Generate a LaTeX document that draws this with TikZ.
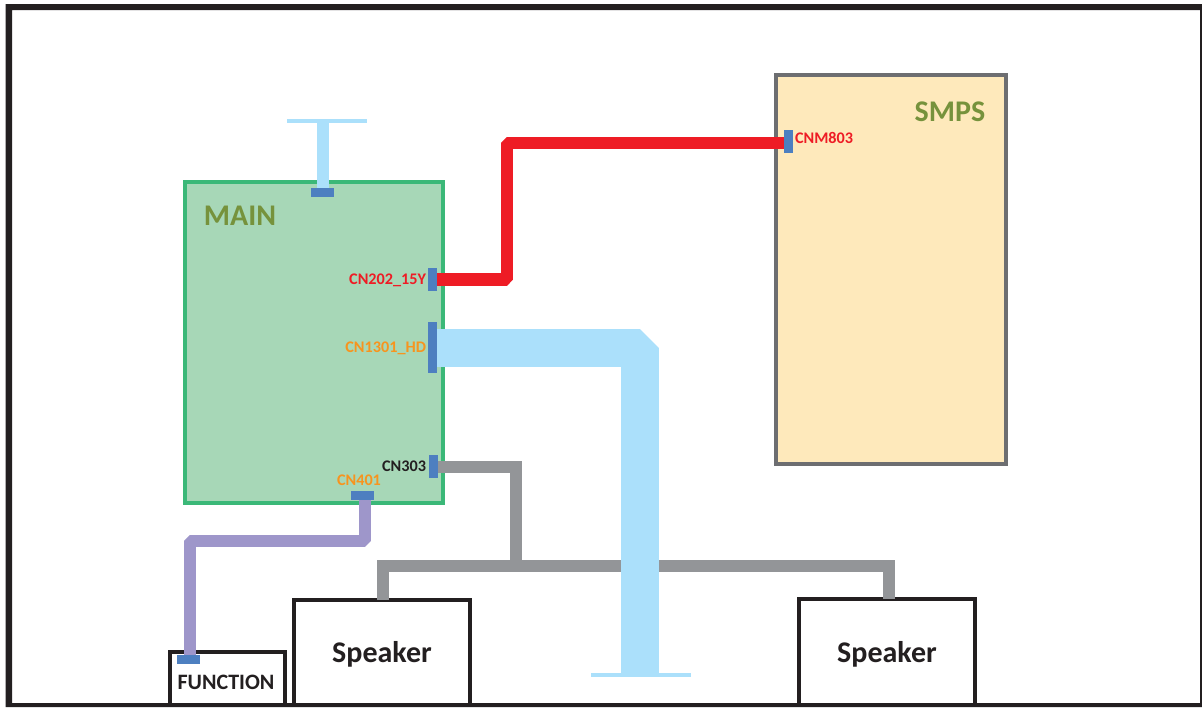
\documentclass[tikz,border=0pt]{standalone}
\usepackage{fontspec}
\setmainfont{Carlito}
\definecolor{frameink}{HTML}{231F20}
\definecolor{mainfill}{HTML}{A7D7B7}
\definecolor{mainedge}{HTML}{3BB878}
\definecolor{titleink}{HTML}{76923C}
\definecolor{smpsfill}{HTML}{FEE9BB}
\definecolor{smpsedge}{HTML}{6D6E71}
\definecolor{portblue}{HTML}{4D7FC0}
\definecolor{skyblue}{HTML}{ABE0FB}
\definecolor{wirered}{HTML}{EE1C25}
\definecolor{wiregray}{HTML}{939598}
\definecolor{wirepurple}{HTML}{9E96CA}
\definecolor{labelorange}{HTML}{F7941E}
\pgfdeclarelayer{boxes}
\pgfdeclarelayer{wires}
\pgfsetlayers{boxes,wires,main}
\tikzset{
  every node/.style={inner sep=0pt,outer sep=0pt,font=\bfseries},
  port/.style={fill=portblue,anchor=center},
  vport/.style={port,minimum width=9pt,minimum height=23pt},
  hport/.style={port,minimum width=23pt,minimum height=9pt},
  board/.style={draw,line width=4pt,anchor=north west},
  whitebox/.style={board,draw=frameink,fill=white},
  title/.style={text=titleink,font=\bfseries\fontsize{30}{30}\selectfont},
  cnlabel/.style={font=\bfseries\fontsize{16.2}{16.2}\selectfont},
  redwire/.style={draw=wirered,line width=12.5pt,line join=bevel},
  graywire/.style={draw=wiregray,line width=12pt,line join=miter},
  purplewire/.style={draw=wirepurple,line width=12.5pt,line join=bevel},
  skywire/.style={draw=skyblue,line width=12pt},
  bigwire/.style={draw=skyblue,line width=38pt,line join=bevel},
  capbar/.style={fill=skyblue,minimum height=4pt},
}
\begin{document}
\begin{tikzpicture}[x=1pt,y=-1pt]
\useasboundingbox (0,0) rectangle (1202,707);
\begin{pgfonlayer}{boxes}
\fill[white] (0,0) rectangle (1202,707);
\node[board,draw=mainedge,fill=mainfill,minimum width=258pt,minimum height=321pt] (main) at (185,182) {};
\node[board,draw=smpsedge,fill=smpsfill,minimum width=230pt,minimum height=389pt] (smps) at (776,75) {};
\node[whitebox,minimum width=176pt,minimum height=105pt] (spkL) at (294,600) {};
\node[whitebox,minimum width=176pt,minimum height=106pt] (spkR) at (799,599) {};
\node[whitebox,minimum width=115pt,minimum height=53pt] (func) at (170,652) {};
\end{pgfonlayer}
\node[title] (mainT) at (240,216) {MAIN};
\node[title] (smpsT) at (950,112) {SMPS};
\node[font=\bfseries\fontsize{30}{30}\selectfont,text=frameink] (spkLT) at (382,654) {Speaker};
\node[font=\bfseries\fontsize{30}{30}\selectfont,text=frameink] (spkRT) at (887,654) {Speaker};
\node[font=\bfseries\fontsize{22}{22}\selectfont,text=frameink] (funcT) at (226,682) {FUNCTION};
% ports
\node[hport] (pTop) at (322.5,192.5) {};
\node[vport] (cn202) at (432.5,279.5) {};
\node[port,minimum width=9pt,minimum height=51pt] (cn1301) at (432.5,347.5) {};
\node[vport] (cn303) at (433.5,466.5) {};
\node[hport] (cn401) at (362.5,495.5) {};
\node[hport] (pFunc) at (188.5,659.5) {};
\node[vport] (cnm803) at (788.5,141.5) {};
% caps
\node[capbar,minimum width=80pt] (capTop) at (327,121) {};
\node[capbar,minimum width=100pt] (capBot) at (641,675) {};
% labels
\node[cnlabel,text=wirered,anchor=east] (l202) at (426,280) {CN202\_15Y};
\node[cnlabel,text=labelorange,anchor=east] (l1301) at (426,348) {CN1301\_HD};
\node[cnlabel,text=frameink,anchor=east] (l303) at (426,466) {CN303};
\node[cnlabel,text=labelorange] (l401) at (359,480) {CN401};
\node[cnlabel,text=wirered,anchor=west] (l803) at (795,138) {CNM803};
% bend points
\coordinate (redTop) at (507,143);
\coordinate (bigBend) at (639.5,347.5);
\coordinate (busTap) at (516,566);
\coordinate (busL) at (383,566);
\coordinate (busR) at (889,566);
\coordinate (purpleTop) at (365,498);
\coordinate (purpleY) at (190,541);
\begin{pgfonlayer}{wires}
\draw[skywire] (pTop.center) -- (pTop.center |- capTop.center);
\draw[redwire] (cn202.center) -| (redTop) -- (cnm803.center |- redTop);
\draw[graywire] (cn303.center) -| (busTap);
\draw[graywire] (busL |- spkL.north) -- (busL) -- (busR) -- (busR |- spkR.north);
\draw[bigwire] (cn1301.center) -- (bigBend) -- (bigBend |- capBot.center);
\draw[purplewire] (purpleTop) -- (purpleTop |- purpleY) -- (purpleY) -- (purpleY |- pFunc.center);
\end{pgfonlayer}
\fill[frameink,even odd rule] (5.5,4) rectangle (1202,707) (12,10) rectangle (1200,703);
\end{tikzpicture}
\end{document}
